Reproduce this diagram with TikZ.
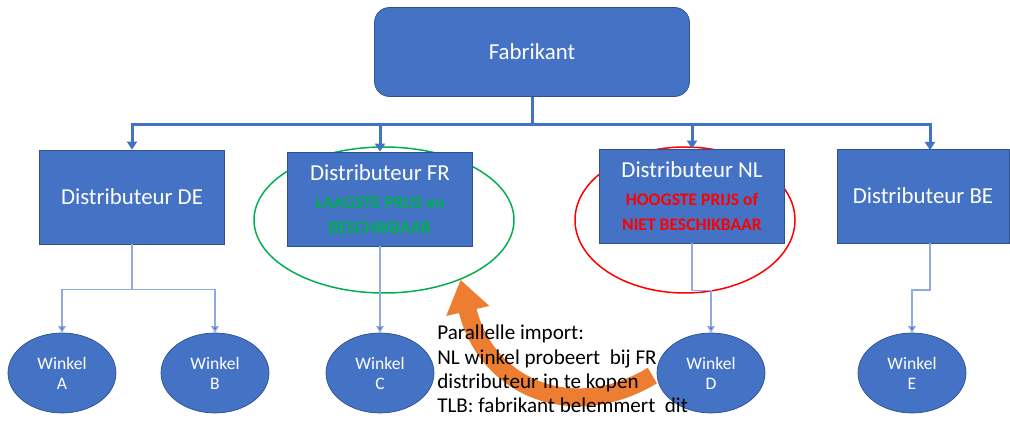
\documentclass[tikz,border=0pt]{standalone}
\usepackage{fontspec}
\setmainfont{Carlito}
\usetikzlibrary{shapes.geometric,arrows.meta}
\definecolor{boxblue}{HTML}{4472C4}
\definecolor{boxedge}{HTML}{2F528F}
\definecolor{feedblue}{HTML}{8FAADC}
\definecolor{frgreen}{HTML}{00B050}
\definecolor{nlred}{HTML}{FF0000}
\definecolor{importorange}{HTML}{ED7D31}
\newcommand{\pricefont}{\fontsize{10}{11.4}\selectfont\bfseries}
\tikzset{
  fabbox/.style={rectangle,rounded corners=3mm,fill=boxblue,draw=boxedge,text=white,
    minimum width=63mm,minimum height=17.8mm,font=\fontsize{13}{15}\selectfont},
  distbox/.style={rectangle,fill=boxblue,draw=boxedge,text=white,align=center,
    minimum width=37mm,minimum height=18.8mm,font=\fontsize{13}{15}\selectfont},
  winkel/.style={ellipse,fill=boxblue,draw=boxedge,text=white,align=center,inner sep=0pt,
    minimum width=21.6mm,minimum height=16mm,font=\fontsize{10}{11.4}\selectfont},
  busline/.style={draw=boxblue,line width=0.6mm,-{Triangle[width=2mm,length=1.6mm]}},
  feedline/.style={draw=feedblue,line width=0.25mm,-{Triangle[width=1.5mm,length=1.3mm,fill=boxblue]}}
}
\begin{document}
\begin{tikzpicture}[x=0.2mm,y=-0.2mm]
    \useasboundingbox (0,0) rectangle (1010,421);
    % circles round FR and NL
    \node[ellipse,draw=frgreen,line width=0.3mm,minimum width=52mm,minimum height=29.2mm] (frcircle) at (384,220) {};
    \node[ellipse,draw=nlred,line width=0.3mm,minimum width=44mm,minimum height=29.2mm] (nlcircle) at (685,220) {};
    % top and distributors
    \node[fabbox] (fab) at (532,52) {Fabrikant};
    \node[distbox] (dDE) at (132,197) {Distributeur DE};
    \node[distbox] (dFR) at (380,199) {Distributeur FR\\[1pt]
        {\pricefont\color{frgreen}LAAGSTE PRIJS en}\\[-1pt] {\pricefont\color{frgreen}BESCHIKBAAR}};
    \node[distbox] (dNL) at (692,196) {Distributeur NL\\[1pt]
        {\pricefont\color{nlred}HOOGSTE PRIJS of}\\[-1pt] {\pricefont\color{nlred}NIET BESCHIKBAAR}};
    \node[distbox,minimum width=34.4mm] (dBE) at (923,196) {Distributeur BE};
    \coordinate (beport) at (930,150);
    \coordinate (bebottom) at (930,243);
    % shops
    \node[winkel] (wA) at (62,373) {Winkel\\A};
    \node[winkel] (wB) at (215,373) {Winkel\\B};
    \node[winkel] (wC) at (380,373) {Winkel\\C};
    \node[winkel] (wD) at (711,373) {Winkel\\D};
    \node[winkel] (wE) at (912,373) {Winkel\\E};
    % bus from fabrikant
    \draw[busline] (fab.south) -- ++(0,28) -| (dDE.north);
    \draw[busline] (fab.south) -- ++(0,28) -| (dFR.north);
    \draw[busline] (fab.south) -- ++(0,28) -| (dNL.north);
    \draw[busline] (fab.south) -- ++(0,28) -| (beport);
    % distributors to shops
    \draw[feedline] (dDE.south) -- ++(0,45) -| (wA.north);
    \draw[feedline] (dDE.south) -- ++(0,45) -| (wB.north);
    \draw[feedline] (dFR.south) -- (wC.north);
    \draw[feedline] (dNL.south) -- ++(0,47) -| (wD.north);
    \draw[feedline] (bebottom) -- ++(0,47) -| (wE.north);
    % parallel import
    \draw[importorange,line width=3.6mm,-{Triangle[width=8.4mm,length=6.4mm]},shorten <=1mm]
        (wD.west) .. controls (570,425) and (485,385) .. (frcircle.-38);
    \node[anchor=west,align=left,inner sep=0pt,font=\fontsize{12}{13.9}\selectfont] (note) at (437,369)
        {Parallelle import:\\NL winkel probeert\ \ bij FR\\distributeur in te kopen\\TLB: fabrikant belemmert\ \ dit};
\end{tikzpicture}
\end{document}
